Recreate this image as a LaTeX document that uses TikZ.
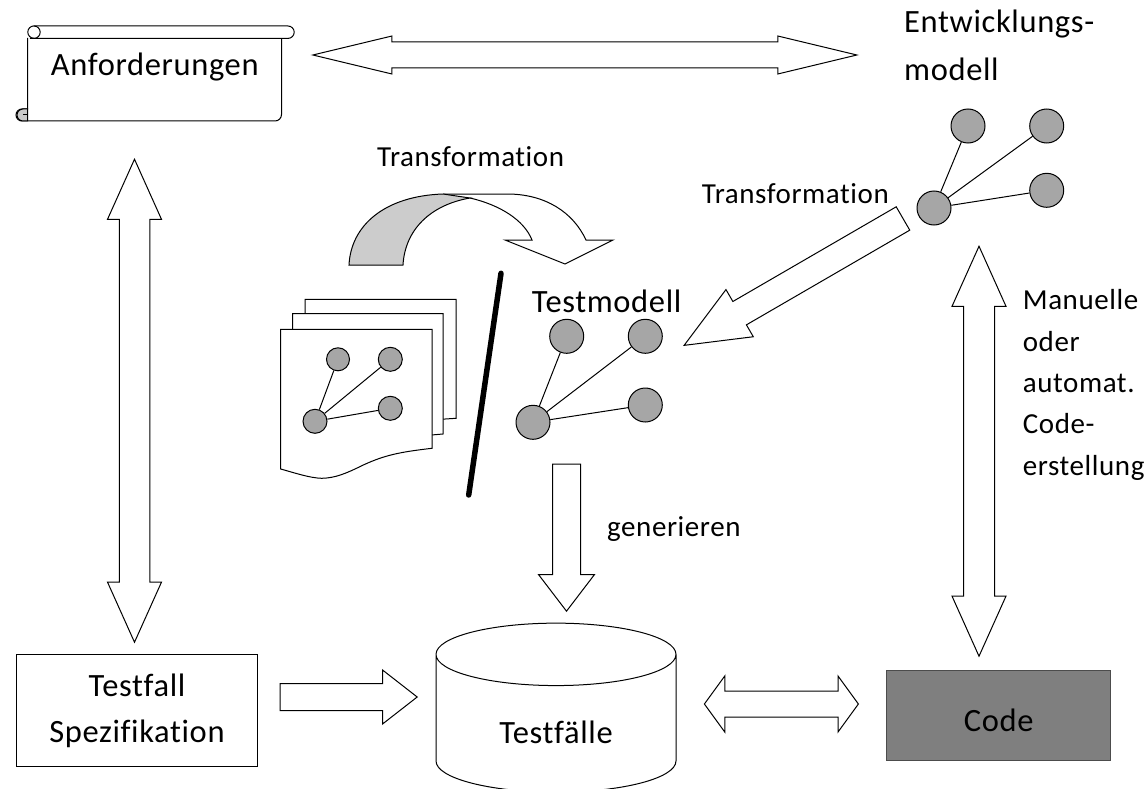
\documentclass[tikz,border=0pt]{standalone}
\usepackage{fontspec}
\setmainfont{Carlito}[LetterSpace=2, Ligatures=CommonOff]
\usetikzlibrary{shapes.arrows,shapes.geometric}
\definecolor{nodegray}{RGB}{166, 166, 166}
\definecolor{bendgray}{RGB}{204, 204, 204}
\definecolor{codegray}{RGB}{127, 127, 127}
\tikzset{
    bigtext/.style={font=\fontsize{32.5}{46}\selectfont},
    smalltext/.style={font=\fontsize{29}{41.5}\selectfont},
    oneway/.style n args={4}{single arrow, draw, fill=white, line width=1pt, inner sep=0pt, anchor=tip,
        text height=#1pt, text depth=0pt, single arrow head extend={(#2-#1)/2*1pt},
        single arrow tip angle={2*atan(#2/2/#3)}, minimum height=#4pt},
    twoway/.style n args={4}{double arrow, draw, fill=white, line width=1pt, inner sep=0pt, anchor=tip 1,
        text height=#1pt, text depth=0pt, double arrow head extend={(#2-#1)/2*1pt},
        double arrow tip angle={2*atan(#2/2/#3)}, minimum height=#4pt},
    modelnode/.style={circle, draw, fill=nodegray, line width=1pt, inner sep=0pt, minimum size=#1pt},
    modeledge/.style={line width=1pt}
}

\begin{document}
\begin{tikzpicture}[x=1pt, y=-1pt]
    \useasboundingbox (0,0) rectangle (1148,789);

    % Requirements scroll
    \draw[line width=1pt, fill=white] (27.7,38) -- (27.7,109) -- (22,109) arc[start angle=270, end angle=90, radius=6]
        -- (275,121) arc[start angle=90, end angle=0, radius=6.5] -- (281.7,38);
    \draw[line width=1pt, fill=nodegray!60] (27.7,109) -- (23,109) arc[start angle=270, end angle=90, radius=6] -- (27.7,121) -- cycle;
    \draw[line width=1pt] (27.7,115) -- (23,115);
    \draw[line width=1pt, fill=white] (34,26) -- (288,26) arc[start angle=-90, end angle=90, radius=6.2] -- (34,38.3)
        arc[start angle=90, end angle=270, radius=6.2];
    \draw[line width=1pt] (34,26) arc[start angle=-90, end angle=90, radius=6.2] -- (30,38.3);
    \node[bigtext, anchor=base west, inner sep=0pt] (anforderungen) at (50.7,76) {Anforderungen};

    % Development model
    \node[bigtext, anchor=base west, inner sep=0pt] (entwicklung) at (904,33) {Entwicklungs-};
    \node[bigtext, anchor=base west, inner sep=0pt] (modell) at (904,80.7) {modell};
    \node[modelnode=34] (ea) at (968,126) {};
    \node[modelnode=34] (eb) at (1046.7,126) {};
    \node[modelnode=34] (ec) at (1046.7,190.3) {};
    \node[modelnode=34] (eh) at (934,208) {};
    \draw[modeledge] (eh) -- (ea);
    \draw[modeledge] (eh) -- (eb);
    \draw[modeledge] (eh) -- (ec);

    % Bent arrow
    \draw[line width=1pt, fill=white] (443,194) -- (507,194) .. controls (545,194) and (573,212) .. (586,240)
        -- (613,240) -- (565,264) -- (505,240) -- (532,240) .. controls (524,220) and (500,205) .. (470,198);
    \draw[line width=1pt, fill=bendgray] (349,265) .. controls (351,225) and (385,196) .. (443,194)
        -- (470,198) .. controls (430,205) and (405,230) .. (403,265) -- cycle;
    \node[smalltext, anchor=base west, inner sep=0pt] (transa) at (377,166.7) {Transformation};
    \node[smalltext, anchor=base west, inner sep=0pt] (transb) at (701.7,203) {Transformation};

    % Document stack
    \draw[line width=1pt, fill=white] (305,299.3) -- (456,299.3) -- (456,418.3) -- (430,420) -- (305,420) -- cycle;
    \draw[line width=1pt, fill=white] (292.7,313.7) -- (443,313.7) -- (443,434) -- (420,436) -- (292.7,436) -- cycle;
    \draw[line width=1pt, fill=white] (280.7,329.3) -- (432,329.3) -- (432,448.3) .. controls (400,452) and (385,455) .. (363.3,465)
        .. controls (345,474) and (335,478) .. (321.7,478.3) .. controls (310,478) and (295,473) .. (280.7,469) -- cycle;
    \node[modelnode=23] (da) at (338,359.3) {};
    \node[modelnode=24] (db) at (390.3,359.3) {};
    \node[modelnode=24] (dc) at (390.3,408.3) {};
    \node[modelnode=24] (dh) at (315,421.3) {};
    \draw[modeledge] (dh) -- (da);
    \draw[modeledge] (dh) -- (db);
    \draw[modeledge] (dh) -- (dc);

    % Separator
    \draw[line width=5.5pt, line cap=round] (501,273.3) -- (468.7,495);

    % Test model
    \node[bigtext, anchor=base west, inner sep=0pt] (testmodell) at (531.7,312.7) {Testmodell};
    \node[modelnode=34] (ta) at (566.7,336.3) {};
    \node[modelnode=34] (tb) at (645.3,336.3) {};
    \node[modelnode=34] (tc) at (645.3,405) {};
    \node[modelnode=34] (th) at (533,422.3) {};
    \draw[modeledge] (th) -- (ta);
    \draw[modeledge] (th) -- (tb);
    \draw[modeledge] (th) -- (tc);

    % Bottom row
    \node[bigtext, rectangle, draw, line width=1pt, align=center, minimum width=240.6pt, minimum height=111.7pt, inner sep=0pt] (spec) at (137,710.8) {Testfall\\Spezifikation};
    \node[bigtext, cylinder, shape border rotate=90, draw, line width=1pt, aspect=0.55, minimum width=240pt, minimum height=169pt, inner sep=0pt, text height=39pt, text depth=0pt] (testfaelle) at (556,723.5) {Testfälle};
    \node[bigtext, rectangle, draw=black!70, fill=codegray, line width=1.3pt, minimum width=224pt, minimum height=90pt, inner sep=0pt, text height=32pt, text depth=0pt] (code) at (998.7,715.7) {Code};

    % Block arrows
    \node[twoway={25}{37}{77}{544}] (reqdev) at (859,55) {};
    \node[twoway={29.5}{53}{59}{483}, rotate=90] (reqspec) at (134.5,158) {};
    \node[twoway={30}{53}{59}{410}, rotate=90] (devcode) at (979,245) {};
    \node[twoway={25}{55}{20}{154}] (faellecode) at (859,704) {};
    \node[oneway={26}{53.5}{63}{253}, rotate=210.1] (devtest) at (683,346) {};
    \node[oneway={27}{55}{36}{147}, rotate=-90] (gen) at (566.5,612) {};
    \node[oneway={26}{53}{34}{137}] (specfaelle) at (418,697) {};

    % Labels
    \node[smalltext, anchor=base west, inner sep=0pt] (generieren) at (607,536.7) {generieren};
    \node[smalltext, anchor=base west, inner sep=0pt] (manuelle) at (1022.7,309) {Manuelle};
    \node[smalltext, anchor=base west, inner sep=0pt] (oder) at (1022.7,351.7) {oder};
    \node[smalltext, anchor=base west, inner sep=0pt] (automat) at (1022.7,392) {automat.};
    \node[smalltext, anchor=base west, inner sep=0pt] (codeline) at (1022.7,433) {Code-};
    \node[smalltext, anchor=base west, inner sep=0pt] (erstellung) at (1022.7,475) {erstellung};
\end{tikzpicture}
\end{document}
